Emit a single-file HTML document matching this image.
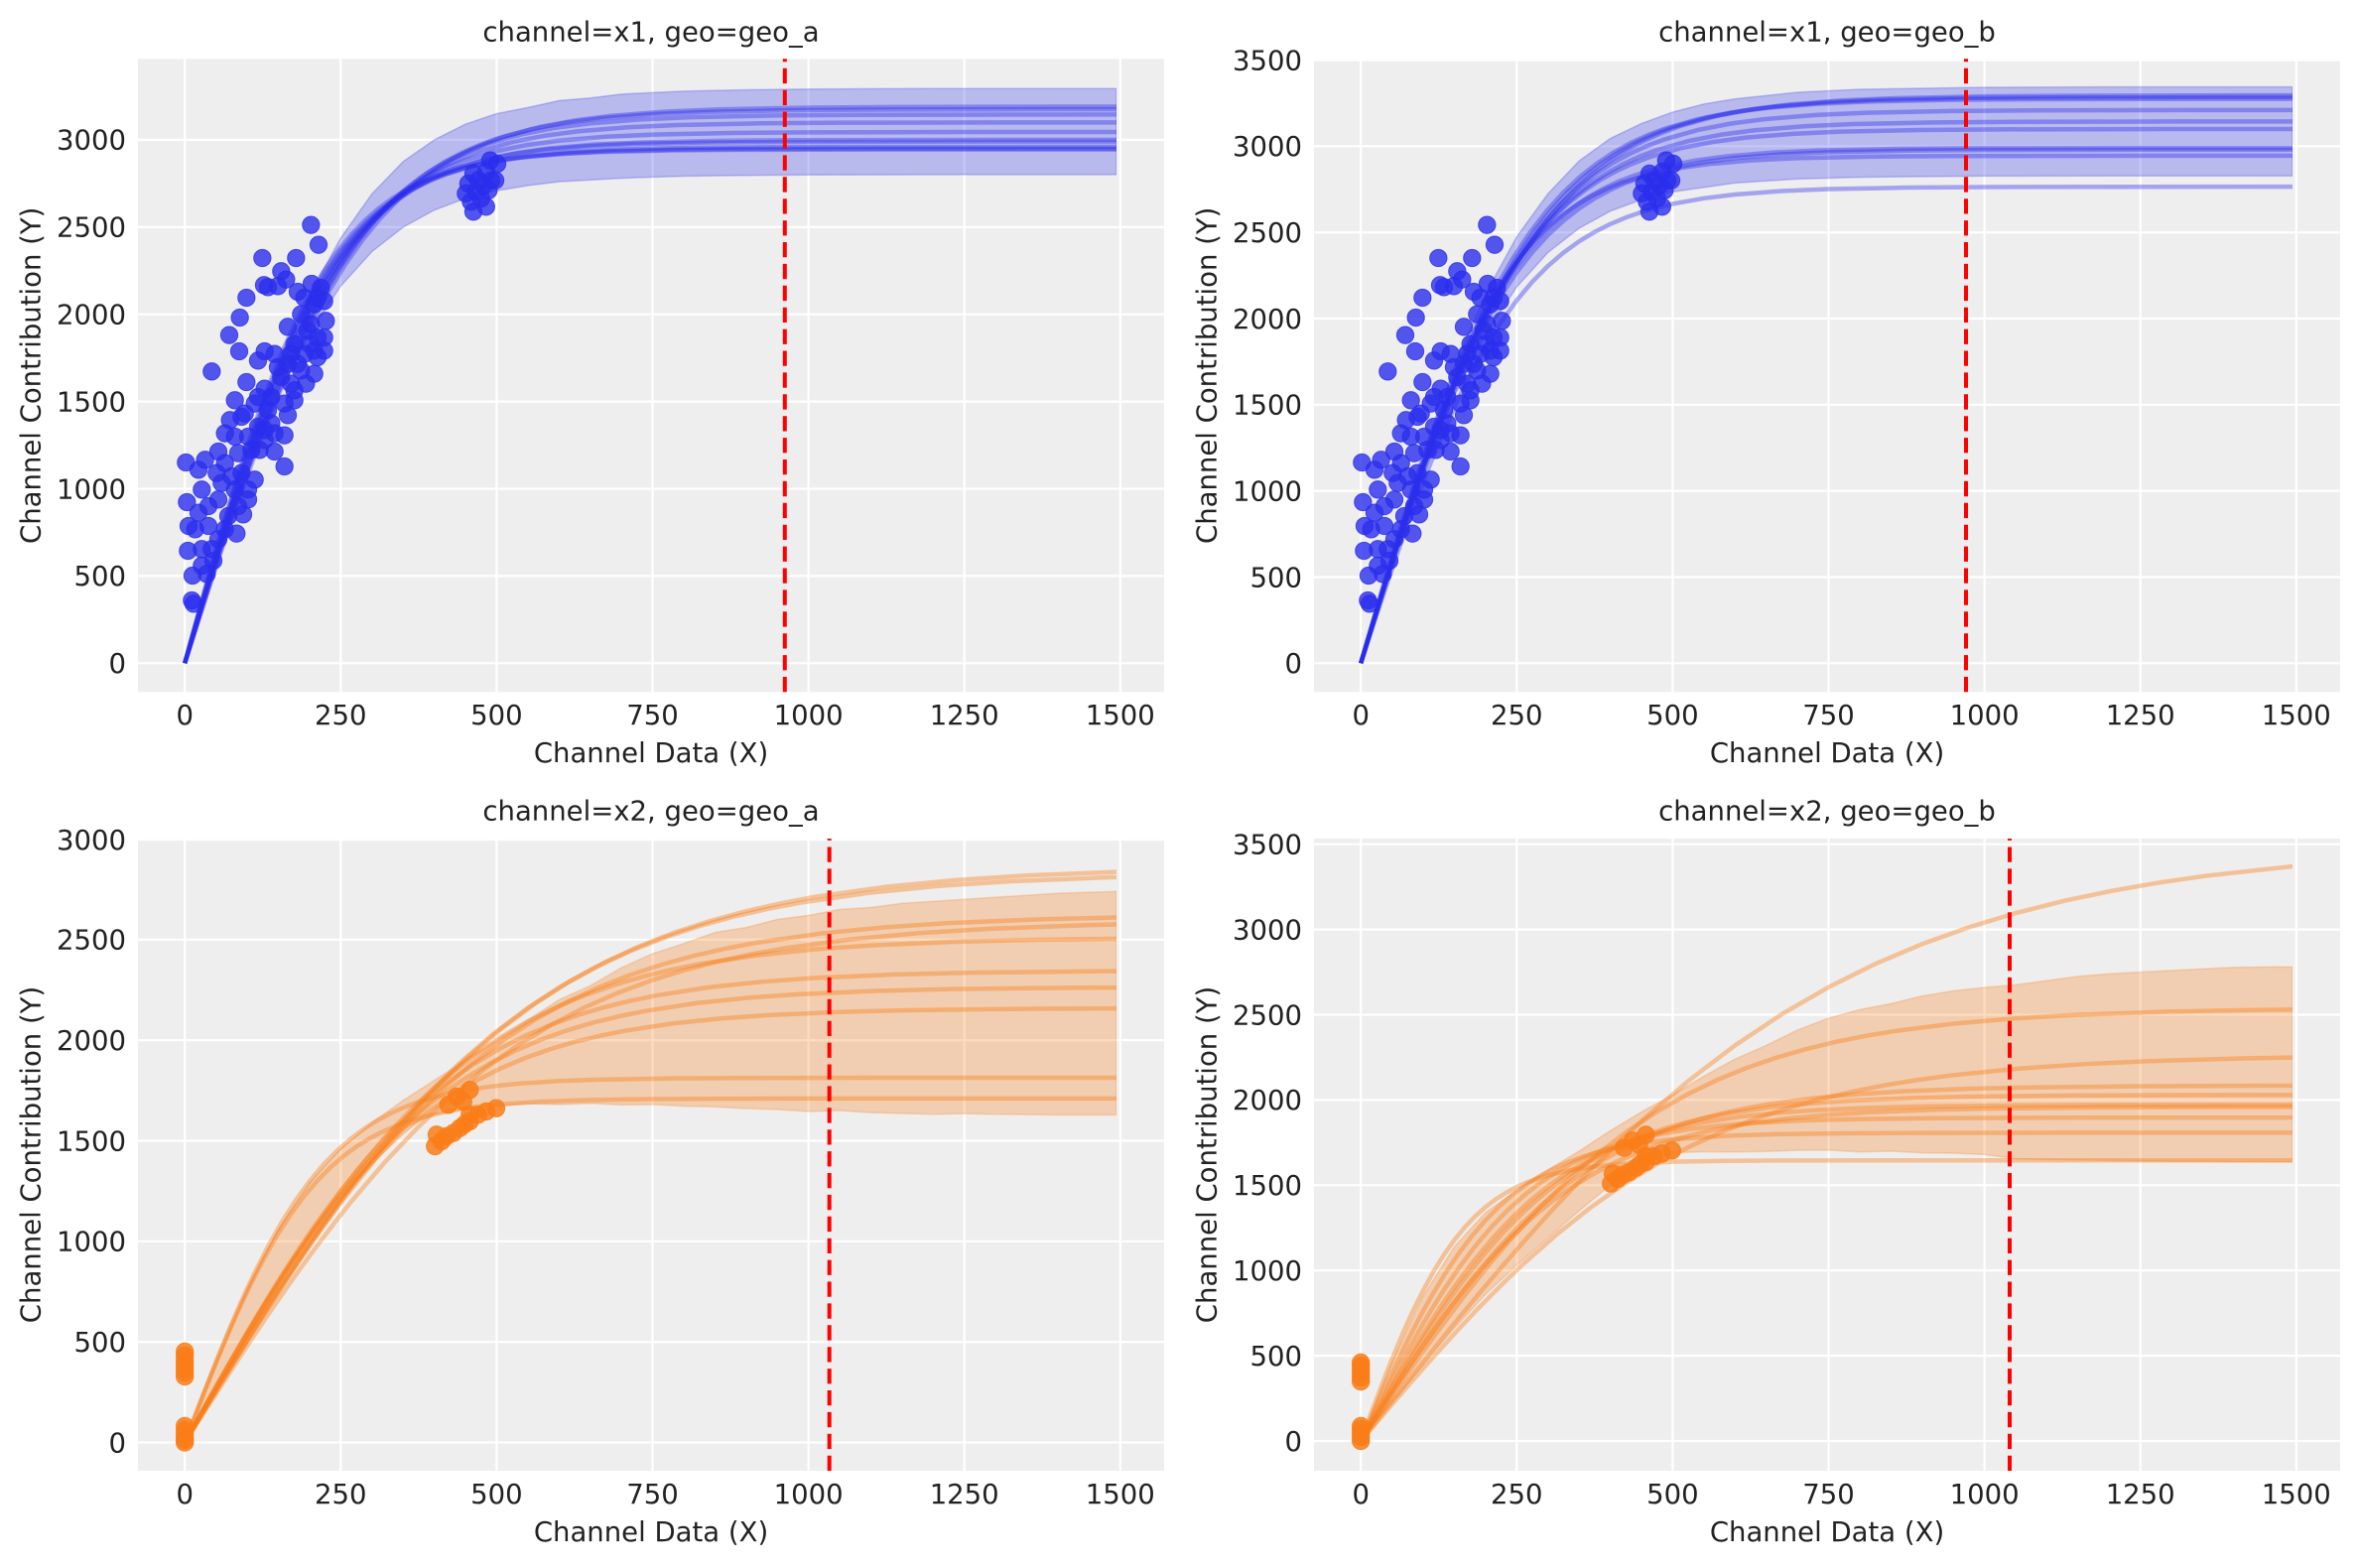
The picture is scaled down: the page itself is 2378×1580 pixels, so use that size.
<!DOCTYPE html>
<html>
<head>
<meta charset="utf-8">
<style>
  html,body{margin:0;padding:0;background:#fff;}
  body{width:2378px;height:1580px;overflow:hidden;}
  svg{display:block;}
  text{font-family:"DejaVu Sans","Liberation Sans",sans-serif;font-size:27.5px;fill:#222;}
  .yt{text-anchor:end;}
  .xt{text-anchor:middle;}
  .ttl{text-anchor:middle;}
  .grid line{stroke:#fff;stroke-width:2.2;}
  .bl use{stroke:#2a2eec;stroke-opacity:.38;stroke-width:4.5;fill:none;}
  .ol use{stroke:#fa7c17;stroke-opacity:.4;stroke-width:4.5;fill:none;}
  .bband{fill:#2a2eec;fill-opacity:.27;stroke:#2a2eec;stroke-opacity:.25;stroke-width:1.5;}
  .oband{fill:#fa7c17;fill-opacity:.28;stroke:#fa7c17;stroke-opacity:.25;stroke-width:1.5;}
  .bs circle{fill:#2a2eec;fill-opacity:.8;stroke:#2a2eec;stroke-opacity:.8;}
  .os circle{fill:#fa7c17;fill-opacity:.85;stroke:#fa7c17;stroke-opacity:.85;stroke-width:1;}
  .red{stroke:#ff0000;stroke-width:4;stroke-dasharray:15.3 6.6;}
</style>
</head>
<body>
<svg width="2378" height="1580" viewBox="0 0 2378 1580" xmlns="http://www.w3.org/2000/svg" xmlns:xlink="http://www.w3.org/1999/xlink">
<defs>
  <path id="T" vector-effect="non-scaling-stroke" d="M0,0 L0.05,0.04996 L0.1,0.09967 L0.15,0.14889 L0.2,0.19738 L0.25,0.24492 L0.3,0.29131 L0.35,0.33638 L0.4,0.37995 L0.45,0.4219 L0.5,0.46212 L0.6,0.53705 L0.7,0.60437 L0.8,0.66404 L0.9,0.7163 L1,0.76159 L1.1,0.8005 L1.2,0.83365 L1.3,0.86172 L1.4,0.88535 L1.5,0.90515 L1.6,0.92167 L1.7,0.93541 L1.8,0.94681 L2,0.96403 L2.2,0.97574 L2.4,0.98367 L2.7,0.99101 L3,0.99505 L3.5,0.99818 L4,0.99933 L5,0.99991 L6,0.99999 L12,1"/>
  <clipPath id="cl"><rect x="139" y="0" width="986" height="1580"/></clipPath>
  <clipPath id="cr"><rect x="1324" y="0" width="986" height="1580"/></clipPath>
</defs>
<rect width="2378" height="1580" fill="#fff"/>

<!-- ============ PANEL TL ============ -->
<rect x="139" y="59.3" width="1034" height="638" fill="#eeeeee"/>
<g class="grid">
  <line x1="186.2" y1="59.3" x2="186.2" y2="697.3"/><line x1="343.3" y1="59.3" x2="343.3" y2="697.3"/><line x1="500.4" y1="59.3" x2="500.4" y2="697.3"/><line x1="657.5" y1="59.3" x2="657.5" y2="697.3"/><line x1="814.6" y1="59.3" x2="814.6" y2="697.3"/><line x1="971.7" y1="59.3" x2="971.7" y2="697.3"/><line x1="1128.8" y1="59.3" x2="1128.8" y2="697.3"/>
  <line x1="139" y1="668.3" x2="1173" y2="668.3"/><line x1="139" y1="580.4" x2="1173" y2="580.4"/><line x1="139" y1="492.5" x2="1173" y2="492.5"/><line x1="139" y1="404.6" x2="1173" y2="404.6"/><line x1="139" y1="316.7" x2="1173" y2="316.7"/><line x1="139" y1="228.8" x2="1173" y2="228.8"/><line x1="139" y1="140.9" x2="1173" y2="140.9"/>
</g>
<g clip-path="url(#cl)">
  <g transform="translate(186.2,668.3) scale(0.6284,-0.1758)">
    <polygon class="bband" vector-effect="non-scaling-stroke" points="0,0 25,312 50,618 75,914 100,1195 150,1698 200,2112 250,2437 300,2690 350,2875 400,3000 450,3090 500,3150 550,3185 600,3225 650,3240 700,3262 800,3279 900,3287 1000,3291 1200,3294 1494,3294 1494,2800 1200,2800 1000,2799 900,2796 800,2792 700,2780 650,2770 600,2760 550,2738 500,2708 450,2664 400,2597 350,2499 300,2359 250,2161 200,1890 150,1533 100,1088 75,835 50,566 25,286"/>
    <g class="bl">
      <use href="#T" transform="scale(285.71,3190)"/>
      <use href="#T" transform="scale(277.78,3175)"/>
      <use href="#T" transform="scale(270.27,3145)"/>
      <use href="#T" transform="scale(263.16,3100)"/>
      <use href="#T" transform="scale(250,3045)"/>
      <use href="#T" transform="scale(243.9,3000)"/>
      <use href="#T" transform="scale(238.1,2990)"/>
      <use href="#T" transform="scale(232.56,2960)"/>
      <use href="#T" transform="scale(227.27,2950)"/>
      <use href="#T" transform="scale(222.22,2945)"/>
    </g>
  </g>
</g>
<g id="bscat" class="bs">
  <g transform="translate(160,200) scale(0.333333)" stroke-width="3">
    <circle cx="460" cy="80" r="26"/><circle cx="483" cy="140" r="26"/><circle cx="313" cy="180" r="26"/><circle cx="415" cy="180" r="26"/><circle cx="370" cy="220" r="26"/><circle cx="385" cy="245" r="26"/><circle cx="318" cy="262" r="26"/><circle cx="330" cy="268" r="26"/><circle cx="360" cy="265" r="26"/><circle cx="420" cy="282" r="26"/><circle cx="462" cy="258" r="26"/><circle cx="490" cy="270" r="26"/><circle cx="500" cy="310" r="26"/><circle cx="265" cy="300" r="26"/><circle cx="245" cy="360" r="26"/><circle cx="213" cy="413" r="26"/><circle cx="243" cy="462" r="26"/><circle cx="160" cy="523" r="26"/><circle cx="390" cy="388" r="26"/><circle cx="300" cy="490" r="26"/><circle cx="320" cy="462" r="26"/><circle cx="350" cy="470" r="26"/><circle cx="410" cy="440" r="26"/><circle cx="450" cy="400" r="26"/><circle cx="480" cy="420" r="26"/><circle cx="500" cy="460" r="26"/><circle cx="505" cy="370" r="26"/><circle cx="470" cy="530" r="26"/><circle cx="445" cy="560" r="26"/><circle cx="400" cy="560" r="26"/><circle cx="370" cy="540" r="26"/><circle cx="265" cy="555" r="26"/><circle cx="320" cy="575" r="26"/><circle cx="230" cy="610" r="26"/><circle cx="290" cy="620" r="26"/><circle cx="330" cy="640" r="26"/><circle cx="390" cy="655" r="26"/><circle cx="410" cy="610" r="26"/><circle cx="215" cy="670" r="26"/><circle cx="200" cy="710" r="26"/><circle cx="250" cy="660" r="26"/><circle cx="300" cy="690" r="26"/><circle cx="350" cy="710" r="26"/><circle cx="380" cy="716" r="26"/><circle cx="305" cy="760" r="26"/><circle cx="350" cy="765" r="26"/><circle cx="180" cy="765" r="26"/><circle cx="240" cy="770" r="26"/><circle cx="82" cy="798" r="26"/><circle cx="120" cy="820" r="26"/><circle cx="140" cy="790" r="26"/><circle cx="175" cy="830" r="26"/><circle cx="220" cy="840" r="26"/><circle cx="290" cy="850" r="26"/><circle cx="380" cy="810" r="26"/><circle cx="270" cy="880" r="26"/><circle cx="130" cy="880" r="26"/><circle cx="85" cy="918" r="26"/><circle cx="180" cy="910" r="26"/><circle cx="270" cy="910" r="26"/><circle cx="240" cy="930" r="26"/><circle cx="120" cy="950" r="26"/><circle cx="255" cy="955" r="26"/><circle cx="90" cy="990" r="26"/><circle cx="150" cy="990" r="26"/><circle cx="180" cy="1030" r="26"/><circle cx="235" cy="1013" r="26"/><circle cx="88" cy="1065" r="26"/><circle cx="130" cy="1060" r="26"/><circle cx="165" cy="1095" r="26"/><circle cx="102" cy="1140" r="26"/><circle cx="145" cy="1135" r="26"/><circle cx="100" cy="1215" r="26"/><circle cx="105" cy="1225" r="26"/>
    <circle cx="430" cy="350" r="26"/><circle cx="460" cy="380" r="26"/><circle cx="470" cy="460" r="26"/><circle cx="440" cy="470" r="26"/><circle cx="420" cy="500" r="26"/><circle cx="390" cy="500" r="26"/><circle cx="455" cy="440" r="26"/><circle cx="480" cy="480" r="26"/><circle cx="430" cy="520" r="26"/><circle cx="470" cy="320" r="26"/><circle cx="480" cy="300" r="26"/><circle cx="440" cy="300" r="26"/><circle cx="500" cy="420" r="26"/><circle cx="400" cy="470" r="26"/><circle cx="360" cy="510" r="26"/><circle cx="340" cy="600" r="26"/><circle cx="300" cy="600" r="26"/><circle cx="260" cy="650" r="26"/><circle cx="270" cy="720" r="26"/><circle cx="320" cy="700" r="26"/><circle cx="230" cy="720" r="26"/><circle cx="200" cy="800" r="26"/><circle cx="230" cy="880" r="26"/><circle cx="210" cy="960" r="26"/><circle cx="150" cy="930" r="26"/><circle cx="110" cy="1000" r="26"/><circle cx="160" cy="1060" r="26"/><circle cx="200" cy="1000" r="26"/><circle cx="130" cy="1110" r="26"/><circle cx="410" cy="580" r="26"/><circle cx="380" cy="620" r="26"/><circle cx="340" cy="680" r="26"/><circle cx="280" cy="760" r="26"/><circle cx="320" cy="730" r="26"/><circle cx="190" cy="860" r="26"/><circle cx="250" cy="830" r="26"/>
  </g>
  <g stroke-width="1">
    <circle cx="471.9" cy="185" r="8.7"/><circle cx="477" cy="213.3" r="8.7"/><circle cx="489.8" cy="208.3" r="8.7"/><circle cx="493.9" cy="161.7" r="8.7"/><circle cx="501" cy="165" r="8.7"/><circle cx="499" cy="181.7" r="8.7"/><circle cx="484.7" cy="200" r="8.7"/><circle cx="479.6" cy="193.3" r="8.7"/><circle cx="492.3" cy="191.7" r="8.7"/><circle cx="469.4" cy="195" r="8.7"/><circle cx="487.2" cy="186.7" r="8.7"/><circle cx="474.5" cy="203.3" r="8.7"/><circle cx="482" cy="181.7" r="8.7"/><circle cx="494.9" cy="181.7" r="8.7"/><circle cx="477" cy="175" r="8.7"/><circle cx="490" cy="173" r="8.7"/>
  </g>
</g>
<line class="red" x1="790.8" y1="697.3" x2="790.8" y2="59.3"/>

<!-- ============ PANEL TR ============ -->
<rect x="1324" y="59.3" width="1034" height="638" fill="#eeeeee"/>
<g class="grid">
  <line x1="1371.2" y1="59.3" x2="1371.2" y2="697.3"/><line x1="1528.3" y1="59.3" x2="1528.3" y2="697.3"/><line x1="1685.4" y1="59.3" x2="1685.4" y2="697.3"/><line x1="1842.5" y1="59.3" x2="1842.5" y2="697.3"/><line x1="1999.6" y1="59.3" x2="1999.6" y2="697.3"/><line x1="2156.7" y1="59.3" x2="2156.7" y2="697.3"/><line x1="2313.8" y1="59.3" x2="2313.8" y2="697.3"/>
  <line x1="1324" y1="668.3" x2="2358" y2="668.3"/><line x1="1324" y1="581.5" x2="2358" y2="581.5"/><line x1="1324" y1="494.6" x2="2358" y2="494.6"/><line x1="1324" y1="407.8" x2="2358" y2="407.8"/><line x1="1324" y1="321" x2="2358" y2="321"/><line x1="1324" y1="234.2" x2="2358" y2="234.2"/><line x1="1324" y1="147.3" x2="2358" y2="147.3"/><line x1="1324" y1="60.5" x2="2358" y2="60.5"/>
</g>
<g clip-path="url(#cr)">
  <g transform="translate(1371.2,668.3) scale(0.6284,-0.17365)">
    <polygon class="bband" vector-effect="non-scaling-stroke" points="0,0 25,317 50,628 75,928 100,1213 150,1724 200,2144 250,2475 300,2724 350,2915 400,3045 450,3132 500,3198 550,3245 600,3275 700,3313 800,3330 1000,3342 1200,3345 1494,3345 1494,2828 1200,2828 1000,2827 800,2820 700,2810 600,2787 500,2735 450,2690 400,2623 350,2524 300,2383 250,2183 200,1909 150,1548 100,1099 75,843 50,572 25,289"/>
    <g class="bl">
      <use href="#T" transform="scale(285.71,3295)"/>
      <use href="#T" transform="scale(277.78,3285)"/>
      <use href="#T" transform="scale(270.27,3275)"/>
      <use href="#T" transform="scale(270.27,3210)"/>
      <use href="#T" transform="scale(263.16,3144)"/>
      <use href="#T" transform="scale(243.9,2990)"/>
      <use href="#T" transform="scale(250,2980)"/>
      <use href="#T" transform="scale(232.56,2945)"/>
      <use href="#T" transform="scale(250,2765)"/>
      <use href="#T" transform="scale(256.4,3100)"/>
    </g>
  </g>
</g>
<use href="#bscat" transform="translate(1185,0)"/>
<line class="red" x1="1981" y1="697.3" x2="1981" y2="59.3"/>

<!-- ============ PANEL BL ============ -->
<rect x="139" y="845" width="1034" height="637" fill="#eeeeee"/>
<g class="grid">
  <line x1="186.2" y1="845" x2="186.2" y2="1482"/><line x1="343.3" y1="845" x2="343.3" y2="1482"/><line x1="500.4" y1="845" x2="500.4" y2="1482"/><line x1="657.5" y1="845" x2="657.5" y2="1482"/><line x1="814.6" y1="845" x2="814.6" y2="1482"/><line x1="971.7" y1="845" x2="971.7" y2="1482"/><line x1="1128.8" y1="845" x2="1128.8" y2="1482"/>
  <line x1="139" y1="1453.5" x2="1173" y2="1453.5"/><line x1="139" y1="1352.2" x2="1173" y2="1352.2"/><line x1="139" y1="1250.8" x2="1173" y2="1250.8"/><line x1="139" y1="1149.5" x2="1173" y2="1149.5"/><line x1="139" y1="1048.1" x2="1173" y2="1048.1"/><line x1="139" y1="946.8" x2="1173" y2="946.8"/><line x1="139" y1="846.2" x2="1173" y2="846.2"/>
</g>
<g clip-path="url(#cl)">
  <g transform="translate(186.2,1453.5) scale(0.6284,-0.2027)">
    <polygon class="oband" vector-effect="non-scaling-stroke" points="0,0 25,210 50,400 100,760 150,1060 200,1290 250,1460 300,1590 350,1700 400,1800 450,1900 500,2000 550,2100 600,2200 650,2270 700,2360 750,2430 800,2480 850,2535 900,2560 950,2600 1000,2620 1050,2650 1100,2660 1150,2680 1200,2690 1300,2710 1400,2730 1494,2739 1494,1628 1400,1628 1300,1632 1250,1635 1200,1632 1100,1640 1050,1650 1000,1645 950,1655 900,1660 850,1668 800,1672 750,1680 700,1678 650,1686 600,1680 550,1684 500,1672 450,1660 400,1630 350,1560 300,1400 250,1200 200,985 150,750 100,510 50,260 25,130"/>
    <g class="ol">
      <use href="#T" transform="scale(561.8,2865)"/>
      <use href="#T" transform="scale(549.45,2835)"/>
      <use href="#T" transform="scale(510.2,2625)"/>
      <use href="#T" transform="scale(534.8,2595)"/>
      <use href="#T" transform="scale(458.7,2512)"/>
      <use href="#T" transform="scale(420.2,2347)"/>
      <use href="#T" transform="scale(409.8,2265)"/>
      <use href="#T" transform="scale(390.6,2160)"/>
      <use href="#T" transform="scale(222.2,1813)"/>
      <use href="#T" transform="scale(212.8,1710)"/>
    </g>
  </g>
</g>
<g class="os">
  <circle cx="186.2" cy="1453.5" r="8.7"/><circle cx="186.2" cy="1449" r="8.7"/><circle cx="186.2" cy="1445" r="8.7"/><circle cx="186.2" cy="1441" r="8.7"/><circle cx="186.2" cy="1437" r="8.7"/><circle cx="186.2" cy="1451" r="8.7"/>
  <circle cx="186.2" cy="1387" r="8.7"/><circle cx="186.2" cy="1383" r="8.7"/><circle cx="186.2" cy="1379" r="8.7"/><circle cx="186.2" cy="1375" r="8.7"/><circle cx="186.2" cy="1371" r="8.7"/><circle cx="186.2" cy="1366" r="8.7"/><circle cx="186.2" cy="1362" r="8.7"/>
  <circle cx="438.3" cy="1155" r="8.7"/><circle cx="440" cy="1143.3" r="8.7"/><circle cx="450" cy="1145" r="8.7"/><circle cx="456.7" cy="1141.7" r="8.7"/><circle cx="463.3" cy="1136.7" r="8.7"/><circle cx="473.3" cy="1130" r="8.7"/><circle cx="481.7" cy="1123.3" r="8.7"/><circle cx="490" cy="1120" r="8.7"/><circle cx="500" cy="1116.7" r="8.7"/><circle cx="473.3" cy="1123.3" r="8.7"/><circle cx="451.7" cy="1113.3" r="8.7"/><circle cx="460" cy="1105" r="8.7"/><circle cx="473.3" cy="1098.3" r="8.7"/><circle cx="466.7" cy="1110" r="8.7"/><circle cx="445" cy="1150" r="8.7"/><circle cx="468" cy="1133" r="8.7"/>
</g>
<line class="red" x1="835.7" y1="1482" x2="835.7" y2="845"/>

<!-- ============ PANEL BR ============ -->
<rect x="1324" y="845" width="1034" height="637" fill="#eeeeee"/>
<g class="grid">
  <line x1="1371.2" y1="845" x2="1371.2" y2="1482"/><line x1="1528.3" y1="845" x2="1528.3" y2="1482"/><line x1="1685.4" y1="845" x2="1685.4" y2="1482"/><line x1="1842.5" y1="845" x2="1842.5" y2="1482"/><line x1="1999.6" y1="845" x2="1999.6" y2="1482"/><line x1="2156.7" y1="845" x2="2156.7" y2="1482"/><line x1="2313.8" y1="845" x2="2313.8" y2="1482"/>
  <line x1="1324" y1="1452" x2="2358" y2="1452"/><line x1="1324" y1="1366.1" x2="2358" y2="1366.1"/><line x1="1324" y1="1280.2" x2="2358" y2="1280.2"/><line x1="1324" y1="1194.3" x2="2358" y2="1194.3"/><line x1="1324" y1="1108.4" x2="2358" y2="1108.4"/><line x1="1324" y1="1022.5" x2="2358" y2="1022.5"/><line x1="1324" y1="936.6" x2="2358" y2="936.6"/><line x1="1324" y1="850.7" x2="2358" y2="850.7"/>
</g>
<g clip-path="url(#cr)">
  <g transform="translate(1371.2,1452) scale(0.6284,-0.1718)">
    <polygon class="oband" vector-effect="non-scaling-stroke" points="0,0 25,240 50,460 100,850 150,1140 200,1340 250,1470 300,1590 350,1700 400,1820 450,1930 500,2030 550,2140 600,2240 650,2320 700,2410 750,2480 800,2530 850,2565 900,2610 950,2640 1000,2660 1050,2675 1100,2700 1150,2725 1200,2740 1300,2760 1400,2778 1494,2781 1494,1637 1400,1638 1300,1640 1200,1645 1100,1650 1050,1655 1000,1680 950,1688 900,1690 850,1700 800,1695 750,1706 700,1705 650,1698 600,1695 550,1697 500,1690 450,1620 400,1500 350,1350 300,1190 250,1030 200,860 150,660 100,450 50,230 25,120"/>
    <g class="ol">
      <use href="#T" transform="scale(751.9,3500)"/>
      <use href="#T" transform="scale(476.2,2540)"/>
      <use href="#T" transform="scale(526.3,2265)"/>
      <use href="#T" transform="scale(362.3,2085)"/>
      <use href="#T" transform="scale(327.9,2030)"/>
      <use href="#T" transform="scale(303,1972)"/>
      <use href="#T" transform="scale(340,1960)"/>
      <use href="#T" transform="scale(263.2,1897)"/>
      <use href="#T" transform="scale(222.2,1808)"/>
      <use href="#T" transform="scale(166.7,1646)"/>
    </g>
  </g>
</g>
<g class="os">
  <circle cx="1371.2" cy="1452" r="8.7"/><circle cx="1371.2" cy="1448" r="8.7"/><circle cx="1371.2" cy="1444" r="8.7"/><circle cx="1371.2" cy="1440" r="8.7"/><circle cx="1371.2" cy="1437" r="8.7"/>
  <circle cx="1371.2" cy="1392" r="8.7"/><circle cx="1371.2" cy="1388" r="8.7"/><circle cx="1371.2" cy="1384" r="8.7"/><circle cx="1371.2" cy="1380" r="8.7"/><circle cx="1371.2" cy="1376" r="8.7"/><circle cx="1371.2" cy="1373" r="8.7"/>
  <circle cx="1623.2" cy="1192.6" r="8.7"/><circle cx="1625.1" cy="1182.6" r="8.7"/><circle cx="1635.1" cy="1184" r="8.7"/><circle cx="1641.4" cy="1181.2" r="8.7"/><circle cx="1648.3" cy="1176.8" r="8.7"/><circle cx="1658.4" cy="1170.9" r="8.7"/><circle cx="1666.5" cy="1165.1" r="8.7"/><circle cx="1674.7" cy="1162.3" r="8.7"/><circle cx="1684.8" cy="1159.3" r="8.7"/><circle cx="1658.4" cy="1165.1" r="8.7"/><circle cx="1636.4" cy="1156.5" r="8.7"/><circle cx="1645.2" cy="1149.3" r="8.7"/><circle cx="1658.4" cy="1143.5" r="8.7"/><circle cx="1651.5" cy="1153.5" r="8.7"/><circle cx="1630" cy="1188" r="8.7"/><circle cx="1653" cy="1173" r="8.7"/>
</g>
<line class="red" x1="2025" y1="1482" x2="2025" y2="845"/>

<!-- ============ TEXT ============ -->
<text class="ttl" x="656" y="41.5">channel=x1, geo=geo_a</text>
<text class="ttl" x="1841" y="41.5">channel=x1, geo=geo_b</text>
<text class="ttl" x="656" y="826.5">channel=x2, geo=geo_a</text>
<text class="ttl" x="1841" y="826.5">channel=x2, geo=geo_b</text>

<text class="xt" x="656" y="768">Channel Data (X)</text>
<text class="xt" x="1841" y="768">Channel Data (X)</text>
<text class="xt" x="656" y="1553">Channel Data (X)</text>
<text class="xt" x="1841" y="1553">Channel Data (X)</text>

<text text-anchor="middle" transform="translate(40.5,378.3) rotate(-90)">Channel Contribution (Y)</text>
<text text-anchor="middle" transform="translate(1225.5,378.3) rotate(-90)">Channel Contribution (Y)</text>
<text text-anchor="middle" transform="translate(40.5,1163.5) rotate(-90)">Channel Contribution (Y)</text>
<text text-anchor="middle" transform="translate(1225.5,1163.5) rotate(-90)">Channel Contribution (Y)</text>

<!-- x tick labels -->
<g class="xt">
  <text x="186.2" y="730">0</text><text x="343.3" y="730">250</text><text x="500.4" y="730">500</text><text x="657.5" y="730">750</text><text x="814.6" y="730">1000</text><text x="971.7" y="730">1250</text><text x="1128.8" y="730">1500</text>
  <text x="1371.2" y="730">0</text><text x="1528.3" y="730">250</text><text x="1685.4" y="730">500</text><text x="1842.5" y="730">750</text><text x="1999.6" y="730">1000</text><text x="2156.7" y="730">1250</text><text x="2313.8" y="730">1500</text>
  <text x="186.2" y="1515">0</text><text x="343.3" y="1515">250</text><text x="500.4" y="1515">500</text><text x="657.5" y="1515">750</text><text x="814.6" y="1515">1000</text><text x="971.7" y="1515">1250</text><text x="1128.8" y="1515">1500</text>
  <text x="1371.2" y="1515">0</text><text x="1528.3" y="1515">250</text><text x="1685.4" y="1515">500</text><text x="1842.5" y="1515">750</text><text x="1999.6" y="1515">1000</text><text x="2156.7" y="1515">1250</text><text x="2313.8" y="1515">1500</text>
</g>
<!-- y tick labels -->
<g class="yt">
  <text x="127" y="678.1">0</text><text x="127" y="590.2">500</text><text x="127" y="502.3">1000</text><text x="127" y="414.4">1500</text><text x="127" y="326.5">2000</text><text x="127" y="238.6">2500</text><text x="127" y="150.7">3000</text>
  <text x="1312" y="678.1">0</text><text x="1312" y="591.3">500</text><text x="1312" y="504.4">1000</text><text x="1312" y="417.6">1500</text><text x="1312" y="330.8">2000</text><text x="1312" y="244">2500</text><text x="1312" y="157.1">3000</text><text x="1312" y="70.3">3500</text>
  <text x="127" y="1463.3">0</text><text x="127" y="1362">500</text><text x="127" y="1260.6">1000</text><text x="127" y="1159.3">1500</text><text x="127" y="1057.9">2000</text><text x="127" y="956.6">2500</text><text x="127" y="856">3000</text>
  <text x="1312" y="1461.8">0</text><text x="1312" y="1375.9">500</text><text x="1312" y="1290">1000</text><text x="1312" y="1204.1">1500</text><text x="1312" y="1118.2">2000</text><text x="1312" y="1032.3">2500</text><text x="1312" y="946.4">3000</text><text x="1312" y="860.5">3500</text>
</g>
</svg>
</body>
</html>
